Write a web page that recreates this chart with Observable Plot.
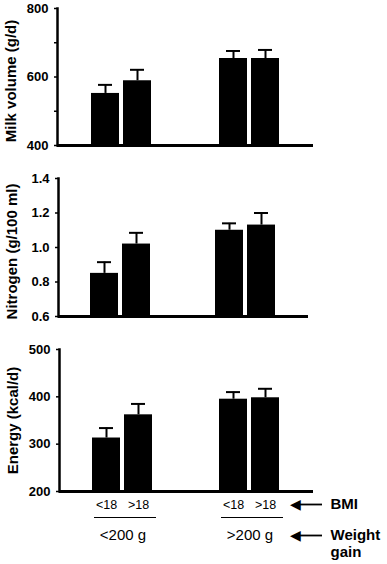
<!DOCTYPE html>
<html><head><meta charset="utf-8">
<script src="https://cdn.jsdelivr.net/npm/d3@7"></script>
<script src="https://cdn.jsdelivr.net/npm/@observablehq/plot@0.6"></script>
<style>
html,body{margin:0;padding:0;background:#fff;}
#chart svg{display:block;}
</style></head><body><div id="chart"></div>
<script>
// Groups
const weightGain = ["<200 g", ">200 g"];
const bmiGroups = ["<18", ">18"];
// Series (order: <200g/<18, <200g/>18, >200g/<18, >200g/>18)
const milkVolume = [552, 589, 654, 654];
const milkVolumeErr = [25, 32, 22, 25];
const nitrogen = [0.85, 1.02, 1.10, 1.13];
const nitrogenErr = [0.065, 0.065, 0.04, 0.07];
const energy = [313, 362, 395, 398];
const energyErr = [21, 23, 15, 19];
// Axis ticks
const milkTicks = [400, 500, 600, 700, 800];
const milkLabels = [400, 600, 800];
const nitrogenTicks = [0.6, 0.8, 1.0, 1.2, 1.4];
const energyTicks = [200, 300, 400, 500];
// Titles
const titles = ["Milk volume (g/d)", "Nitrogen (g/100 ml)", "Energy (kcal/d)"];
const annotBMI = "BMI";
const annotGain = "Weight\ngain";

const FONT = "'Liberation Sans', Arial, Helvetica, sans-serif";

function rows(values, errs) {
  return values.map((v, i) => ({gain: weightGain[Math.floor(i / 2)], bmi: bmiGroups[i % 2], value: v, upper: v + errs[i]}));
}

function arrowMarks(domain, dy) {
  const d = [{g: weightGain[1]}];
  return [
    Plot.ruleY(d, {fx: "g", y: () => domain[0], dy, insetLeft: 112, insetRight: -9, stroke: "black", strokeWidth: 1.8}),
    Plot.text(d, {fx: "g", text: () => "\u25C0", frameAnchor: "bottom-right", dx: -18, dy,
      fontFamily: "DejaVu Sans", fontSize: 14, textAnchor: "middle", lineAnchor: "middle", fill: "black"})
  ];
}

function panel(cfg) {
  const {values, errs, domain, ticks, labels, format, title, height, mt, mb, ml, mr, labelDy, bottom} = cfg;
  const data = rows(values, errs);
  const marks = [
    Plot.barY(data, {fx: "gain", x: "bmi", y1: () => domain[0], y2: "value", fill: "black"}),
    Plot.ruleX(data, {fx: "gain", x: "bmi", y1: "value", y2: "upper", stroke: "black", strokeWidth: 2}),
    Plot.tickY(data, {fx: "gain", x: "bmi", y: "upper", inset: 7, stroke: "black", strokeWidth: 2}),
    Plot.ruleY([domain[0]], {stroke: "black", strokeWidth: 3}),
    Plot.frame({anchor: "left", facetAnchor: "left", stroke: "black", strokeWidth: 2.5}),
    Plot.axisY({ticks, tickSize: 3, tickPadding: 6, strokeWidth: 1.5,
      tickFormat: d => labels.some(l => Math.abs(l - d) < 1e-9) ? format(d) : "",
      fontSize: 13, fontWeight: "bold", label: null}),
    Plot.text([{g: weightGain[0], t: title}], {fx: "g", text: "t", frameAnchor: "left", textAnchor: "middle",
      lineAnchor: "middle", rotate: -90, dx: -46, dy: labelDy, fontSize: 15, fontWeight: "bold"})
  ];
  if (bottom) {
    marks.push(
      Plot.axisX({anchor: "bottom", tickSize: 0, tickPadding: 9, fontSize: 12.5, label: null}),
      Plot.axisFx({anchor: "bottom", tickSize: 0, tickPadding: 38, fontSize: 15, label: null}),
      Plot.ruleY(weightGain.map(g => ({g})), {fx: "g", y: () => domain[0], dy: 26, insetLeft: 35, insetRight: 30, stroke: "black", strokeWidth: 1.2}),
      Plot.text([{g: weightGain[1], t: annotBMI}], {fx: "g", text: "t", frameAnchor: "bottom-right", dx: 17, dy: 13,
        textAnchor: "start", lineAnchor: "middle", fontSize: 15, fontWeight: "bold"}),
      Plot.text([{g: weightGain[1], t: annotGain}], {fx: "g", text: "t", frameAnchor: "bottom-right", dx: 17, dy: 36,
        textAnchor: "start", lineAnchor: "top", lineHeight: 1.15, fontSize: 15, fontWeight: "bold"}),
      ...arrowMarks(domain, 13),
      ...arrowMarks(domain, 44)
    );
  }
  return Plot.plot({
    width: 387, height,
    marginTop: mt, marginBottom: mb, marginLeft: ml, marginRight: mr,
    style: {fontFamily: FONT, color: "black", background: "white", overflow: "visible"},
    fx: {domain: weightGain, padding: 0, ...(bottom ? {} : {axis: null})},
    x: {domain: bmiGroups, paddingInner: 0.12, paddingOuter: 1.0, ...(bottom ? {} : {axis: null})},
    y: {domain, ticks},
    marks
  });
}

const chart = document.getElementById("chart");
chart.append(panel({values: milkVolume, errs: milkVolumeErr, domain: [400, 800], ticks: milkTicks, labels: milkLabels,
  format: d => String(d), title: titles[0], height: 160, mt: 8, mb: 15, ml: 57, mr: 74, labelDy: 4}));
chart.append(panel({values: nitrogen, errs: nitrogenErr, domain: [0.6, 1.4], ticks: nitrogenTicks, labels: nitrogenTicks,
  format: d => d.toFixed(1), title: titles[1], height: 170, mt: 18, mb: 14, ml: 57, mr: 79, labelDy: 4}));
chart.append(panel({values: energy, errs: energyErr, domain: [200, 500], ticks: energyTicks, labels: energyTicks,
  format: d => String(d), title: titles[2], height: 234, mt: 19, mb: 73, ml: 59, mr: 74, labelDy: 0, bottom: true}));
</script>
</body></html>
